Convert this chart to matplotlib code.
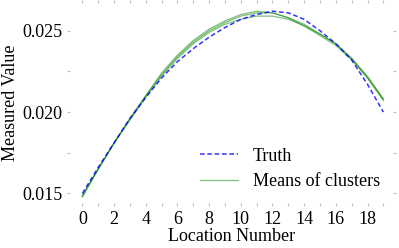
import matplotlib
matplotlib.use("Agg")
import matplotlib.pyplot as plt
import numpy as np
from matplotlib.ticker import MultipleLocator, AutoMinorLocator

# Location numbers
locations = np.arange(20)

# True values
truth = [0.0150, 0.0166, 0.0181, 0.0196, 0.0209, 0.0221, 0.0231, 0.0239, 0.0246, 0.0252,
         0.0257, 0.0260, 0.0262, 0.0261, 0.0257, 0.0250, 0.0242, 0.0232, 0.0217, 0.0200]

# Means of each cluster
cluster_a = [0.0148, 0.0165, 0.0181, 0.0196, 0.0210, 0.0223, 0.0234, 0.0243, 0.0250, 0.0255,
             0.0259, 0.0261, 0.0261, 0.0258, 0.0254, 0.0248, 0.0242, 0.0233, 0.0221, 0.0207]
cluster_b = [0.0148, 0.0165, 0.0181, 0.0196, 0.0210, 0.0224, 0.0235, 0.0244, 0.0251, 0.0256,
             0.0260, 0.0262, 0.0261, 0.0258, 0.0253, 0.0247, 0.0241, 0.0232, 0.0221, 0.0208]
cluster_c = [0.0149, 0.0165, 0.0181, 0.0195, 0.0209, 0.0222, 0.0233, 0.0242, 0.0249, 0.0254,
             0.0257, 0.0259, 0.0259, 0.0257, 0.0253, 0.0248, 0.0242, 0.0233, 0.0222, 0.0208]
clusters = [cluster_a, cluster_b, cluster_c]

plt.rcParams['font.family'] = ['Liberation Serif', 'DejaVu Serif']

fig = plt.figure(figsize=(3.99, 2.48), dpi=100)
ax = fig.add_axes([0.168, 0.169, 0.8246, 0.831])

ax.plot(locations, truth, color='blue', linestyle='--', linewidth=1.1, alpha=0.8,
        dashes=(3, 1.8), label='Truth', zorder=3)
for i, c in enumerate(clusters):
    ax.plot(locations, c, color='green', linewidth=0.9, alpha=0.5,
            label='Means of clusters' if i == 0 else None, zorder=2)

ax.set_xlim(-0.97, 19.8)
ax.set_ylim(0.01422, 0.02689)

ax.xaxis.set_major_locator(MultipleLocator(2))
ax.xaxis.set_minor_locator(AutoMinorLocator(2))
ax.yaxis.set_major_locator(MultipleLocator(0.005))
ax.yaxis.set_minor_locator(AutoMinorLocator(2))

for s in ax.spines.values():
    s.set_visible(False)
ax.tick_params(which='both', direction='in', colors='#bbbbbb', labelcolor='black',
               top=True, right=True, labelsize=13, length=2.5, width=0.8)

ax.set_xlabel('Location Number', fontsize=13, labelpad=0)
ax.set_ylabel('Measured Value', fontsize=13, labelpad=2)

ax.legend(loc='lower right', frameon=False, fontsize=13, handlelength=2.1,
          handletextpad=0.8, borderaxespad=0.5, labelspacing=0.45)

fig.savefig('out.png', dpi=100)
